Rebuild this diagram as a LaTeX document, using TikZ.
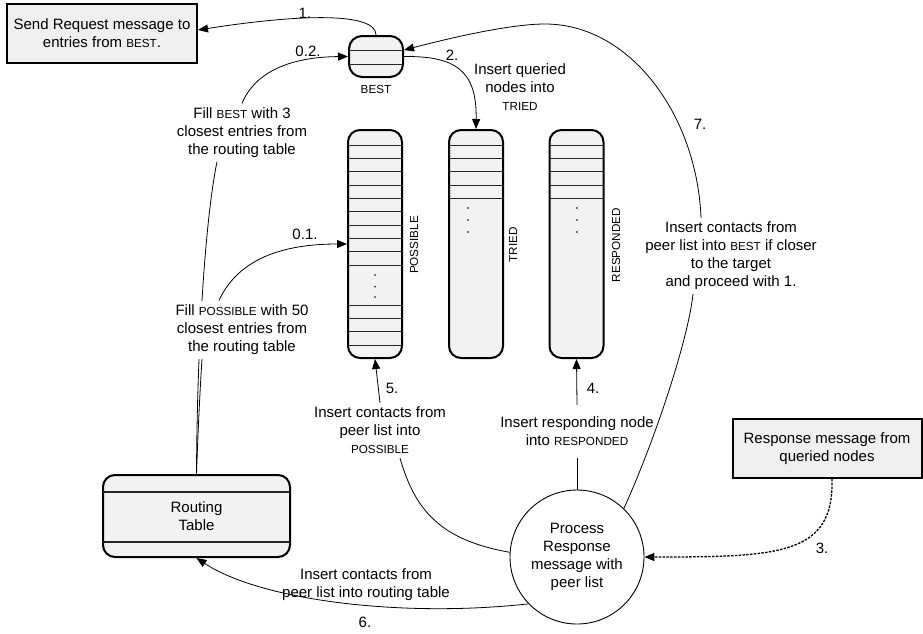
\documentclass[tikz,border=0pt]{standalone}
\usepackage{fontspec}
\setmainfont{Liberation Sans}
\usetikzlibrary{arrows.meta,calc}
\newcommand{\mysc}[1]{{\fontsize{11.7}{18}\selectfont #1}}
\definecolor{boxfill}{RGB}{239,239,239}
\definecolor{colfill}{RGB}{242,242,242}
\begin{document}
\begin{tikzpicture}[x=1pt,y=-1pt,
  txt/.style={font=\fontsize{15}{18}\selectfont, align=center, inner sep=4pt},
  actbox/.style={draw, line width=2pt, fill=boxfill, align=center, font=\fontsize{15}{18}\selectfont},
  colbox/.style={draw, line width=2pt, fill=colfill, rounded corners=12pt, minimum width=54pt, minimum height=228pt},
  rowline/.style={line width=0.8pt, black!85},
  sclbl/.style={font=\fontsize{11.7}{14}\selectfont, inner sep=1pt},
  lbl/.style={font=\fontsize{15}{18}\selectfont, inner sep=1pt},
  conn/.style={line width=0.8pt},
  arr/.style={conn, -{Triangle[length=10pt,width=8pt]}},
  dasharr/.style={line width=1.3pt, dash pattern=on 2.5pt off 1.3pt, -{Triangle[length=10pt,width=8pt]}},
]
\useasboundingbox (0,0) rectangle (923,633);

% action boxes
\node[actbox, minimum width=190pt, minimum height=59pt] (send) at (102,33.5) {Send Request message to\\entries from \mysc{BEST}.};
\node[actbox, minimum width=189pt, minimum height=59pt] (resp) at (827,448.5) {Response message from\\queried nodes};

% BEST store
\node[colbox, rounded corners=13pt, minimum height=41pt] (best) at (376,56.5) {};
\draw[rowline] (349,50.7) -- (403,50.7);
\draw[rowline] (349,64) -- (403,64);
\node[sclbl] (lbest) at (376,89) {BEST};

% columns
\node[colbox] (poss) at (375,244) {};
\node[colbox] (tried) at (476,244) {};
\node[colbox] (respc) at (576.5,244) {};
\foreach \yy in {145,158.33,171.67,185,198.33,211.67,225,238.33,251.67,265,305,318.33,331.67,345}
  \draw[rowline] (348,\yy) -- (402,\yy);
\foreach \yy in {145,158.33,171.67,185,198.33} {
  \draw[rowline] (449,\yy) -- (503,\yy);
  \draw[rowline] (549.5,\yy) -- (603.5,\yy);
}
\foreach \yy in {275,286.7,297} \fill (375,\yy) circle (0.8pt);
\foreach \yy in {208,220,232} {
  \fill (468,\yy) circle (0.8pt);
  \fill (577,\yy) circle (0.8pt);
}
\node[sclbl, rotate=90] (lposs) at (414,245) {POSSIBLE};
\node[sclbl, rotate=90] (ltried) at (513,245) {TRIED};
\node[sclbl, rotate=90] (lresp) at (616,245) {RESPONDED};

% routing table
\node[colbox, minimum width=187pt, minimum height=82pt, align=center, font=\fontsize{15}{18}\selectfont] (rt) at (196.5,516) {Routing\\Table};
\draw[rowline, line width=1.2pt] (103,492) -- (290,492);
\draw[rowline, line width=1.2pt] (103,542) -- (290,542);

% process
\node[circle, draw, line width=0.9pt, fill=white, minimum size=134pt, align=center, font=\fontsize{15}{18}\selectfont] (proc) at (577,557) {Process\\Response\\message with\\peer list};

% text labels
\node[txt] (fillB) at (242,132.6) {Fill \mysc{BEST} with 3\\closest entries from\\the routing table};
\node[txt] (insq) at (520,87.5) {Insert queried\\nodes into\\\mysc{TRIED}};
\node[txt] (ins7) at (731,256) {Insert contacts from\\peer list into \mysc{BEST} if closer\\to the target\\and proceed with 1.};
\node[txt] (ins5) at (380,430.5) {Insert contacts from\\peer list into\\\mysc{POSSIBLE}};
\node[txt, inner sep=12pt] (ins4) at (577,431.5) {Insert responding node\\into \mysc{RESPONDED}};
\node[txt] (ins6) at (366,585) {Insert contacts from\\peer list into routing table};

% step labels
\node[lbl] (n1) at (305,13) {1.};
\node[lbl] (n02) at (308,51) {0.2.};
\node[lbl] (n2) at (452,55) {2.};
\node[lbl] (n7) at (700,124) {7.};
\node[lbl] (n01) at (305,234) {0.1.};
\node[lbl] (n5) at (392,388) {5.};
\node[lbl] (n4) at (593,388) {4.};
\node[lbl] (n3) at (822,548) {3.};
\node[lbl] (n6) at (365,622) {6.};

% connector helper coordinates
\coordinate (c1) at ($(send.east)+(0,-3.5)$);
\coordinate (cB) at ($(fillB.south)+(-25,0)$);
\coordinate (c7a) at ($(ins7.south)+(-38,0)$);
\coordinate (c7b) at ($(ins7.north)+(-30,0)$);
\coordinate (c7m) at (545,24);
\coordinate (c5) at ($(ins5.south)+(20,0)$);
\coordinate (c3) at ($(resp.south)+(5,0)$);

% routing table -> fill BEST (behind fill POSSIBLE text)
\draw[conn] (rt.north) .. controls (197,350) and (205,220) .. (cB);
\node[txt, fill=white] (fillP) at (242,329.6) {Fill \mysc{POSSIBLE} with 50\\closest entries from\\the routing table};
\coordinate (cP1) at ($(fillP.south)+(-40,0)$);
\coordinate (cP2) at ($(fillP.north)+(-23,0)$);

% connectors
\draw[arr] (best.north) .. controls (376,12) and (300,14) .. (c1);
\draw[arr] (fillB.north) .. controls (255,72) and (290,57) .. (best.west);
\draw[arr] (best.east) .. controls (455,56) and (477,70) .. (tried.north);
\draw[conn] (rt.north) .. controls (198,430) and (200,390) .. (cP1);
\draw[arr] (cP2) .. controls (240,255) and (290,244) .. (poss.west);
\draw[conn] (proc.46) .. controls (655,440) and (688,340) .. (c7a);
\draw[arr] (c7b) .. controls (697,115) and (630,24) .. (c7m) .. controls (510,24) and (450,38) .. (best.13);
\draw[conn] (proc.north) -- (ins4.south);
\draw[arr] (ins4.north) -- (respc.south);
\draw[arr] (ins5.north) -- (poss.south);
\draw[conn] (c5) .. controls (415,510) and (440,540) .. (proc.176);
\draw[arr] (proc.224) .. controls (400,618) and (260,600) .. (rt.south);
\draw[dasharr] (c3) .. controls (834,555) and (780,557) .. (proc.east);
\end{tikzpicture}
\end{document}
